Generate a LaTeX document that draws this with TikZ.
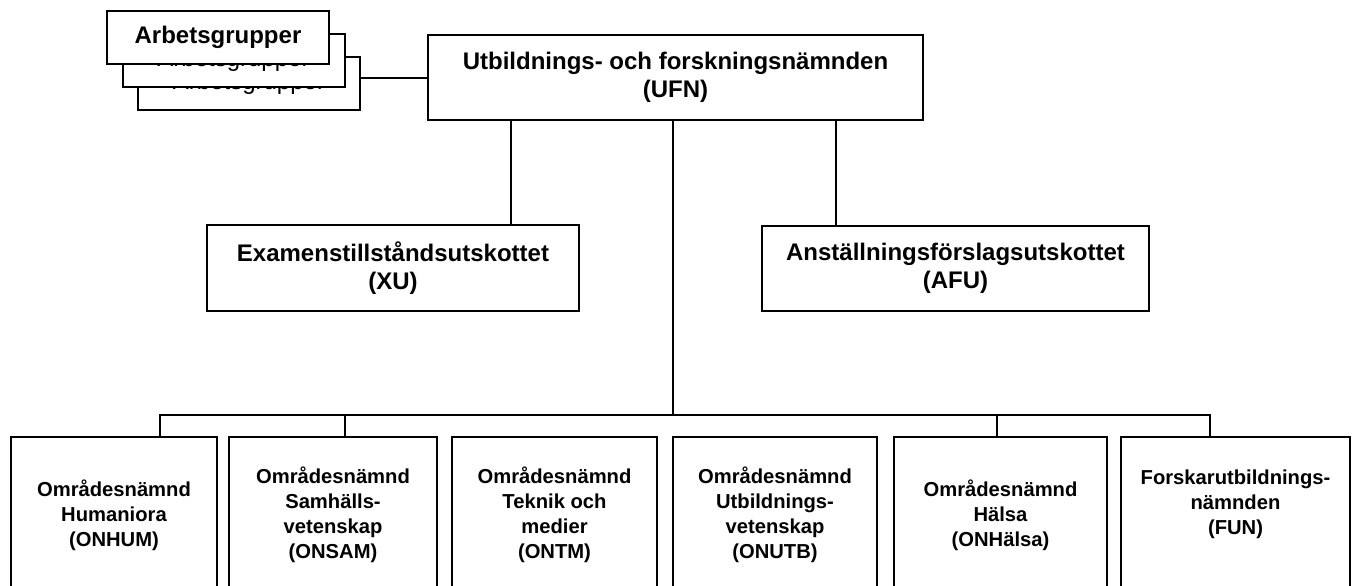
\documentclass[tikz,border=0pt]{standalone}
\usepackage{fontspec}
\setmainfont{Liberation Sans}
\usetikzlibrary{positioning}

\tikzset{
  org/.style={draw, line width=1pt, fill=white, align=center, inner sep=0pt,
    font=\bfseries\fontsize{12}{14}\selectfont},
  board/.style={org, minimum height=78pt, font=\bfseries\fontsize{10.1}{12.5}\selectfont},
  grp/.style={draw, line width=1pt, fill=white, minimum width=111pt, minimum height=26.5pt,
    font=\fontsize{12}{14}\selectfont},
}

\begin{document}
\begin{tikzpicture}[x=0.5pt, y=-0.5pt, line width=1pt, node distance=7pt]
\useasboundingbox (0,0) rectangle (1356,585);
\clip (0,0) rectangle (1356,585);

% working groups, stacked
\node[grp] (arb3) at (249,83) {Arbetsgrupper};
\node[grp] (arb2) at (233.5,60) {Arbetsgrupper};
\node[grp, font=\bfseries\fontsize{12}{14}\selectfont] (arb1) at (218,37) {Arbetsgrupper};

% top level
\node[org, minimum width=247.5pt, minimum height=42.5pt] (ufn) at (675.5,77.5) {Utbildnings- och forskningsnämnden\\(UFN)};
\node[org, minimum width=186pt, minimum height=43pt] (xu) at (393,268) {Examenstillståndsutskottet\\(XU)};
\node[org, minimum width=193.5pt, minimum height=42.5pt] (afu) at (955.5,268) {Anställningsförslagsutskottet\\(AFU)};

% area boards
\node[board, minimum width=103pt] (hum) at (114,515) {Områdesnämnd\\Humaniora\\(ONHUM)};
\node[board, minimum width=104pt, right=5pt of hum] (sam) {Områdesnämnd\\Samhälls-\\vetenskap\\(ONSAM)};
\node[board, minimum width=102.5pt, right=6.5pt of sam] (ntm) {Områdesnämnd\\Teknik och\\medier\\(ONTM)};
\node[board, minimum width=102pt, right=7pt of ntm] (utb) {Områdesnämnd\\Utbildnings-\\vetenskap\\(ONUTB)};
\node[board, minimum width=106.5pt, right=7.5pt of utb] (hal) {Områdesnämnd\\Hälsa\\(ONHälsa)};
\node[board, minimum width=114.5pt, right=6pt of hal] (fun) {Forskarutbildnings-\\nämnden\\(FUN)\\\mbox{}};

% taps
\coordinate (xutap) at (511,170);
\coordinate (afutap) at (836,170);
\coordinate (bus) at (673,415);
\coordinate (humtap) at (160,415);
\coordinate (samtap) at (345,415);
\coordinate (haltap) at (997,415);
\coordinate (funtap) at (1210,415);

\draw (arb3.east |- ufn.west) -- (ufn.west);
\draw (ufn.south -| xutap) -- (xu.north -| xutap);
\draw (ufn.south -| afutap) -- (afu.north -| afutap);
\draw (ufn.south -| bus) -- (bus);
\draw (hum.north -| humtap) -- (humtap) -- (funtap) -- (fun.north -| funtap);
\draw (samtap) -- (sam.north -| samtap);
\draw (haltap) -- (hal.north -| haltap);
\end{tikzpicture}
\end{document}
